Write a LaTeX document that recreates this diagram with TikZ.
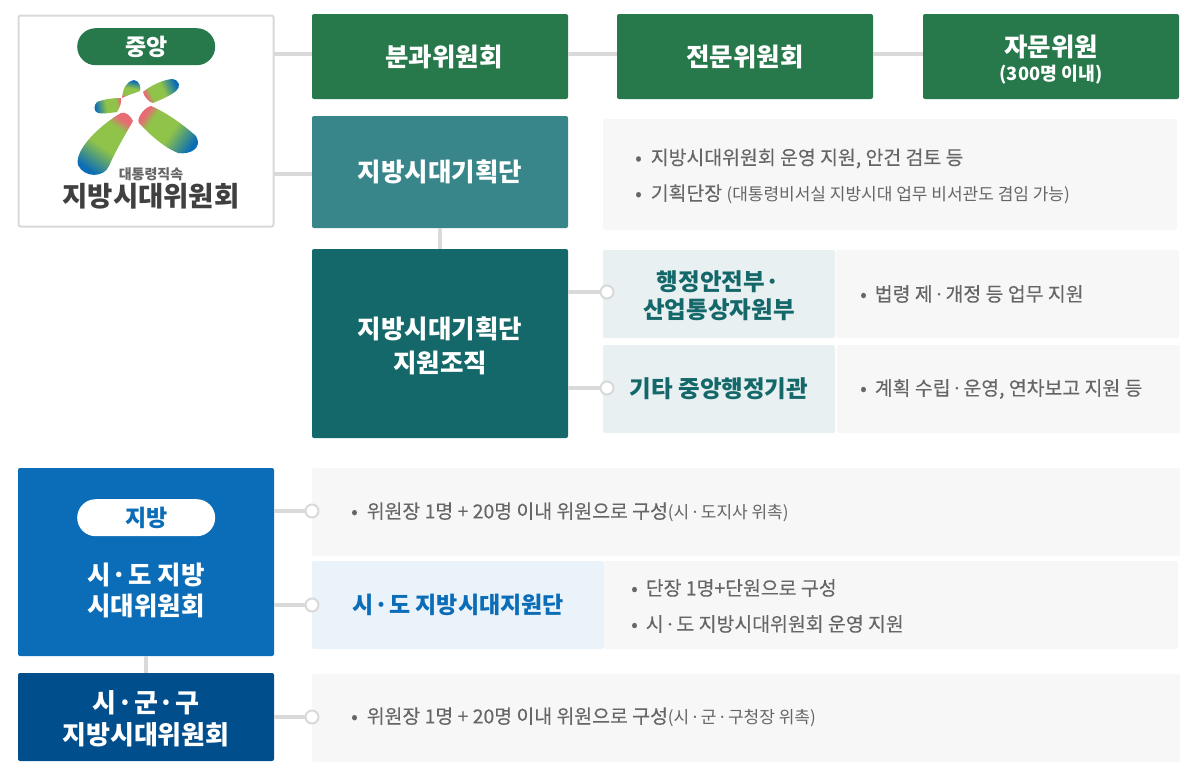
\documentclass[tikz,border=0pt]{standalone}
\usepackage{fontspec}
\setmainfont{Noto Sans CJK KR}
\newfontfamily\krmid{Noto Sans CJK KR}[FakeBold=0.2]
\newcommand{\fsz}[1]{\fontsize{#1}{#1}\selectfont}
\newcommand{\mdot}{\kern1pt·\kern1pt}
\newcommand{\topgap}[1]{\rule{0pt}{#1pt}}
\definecolor{cgreen}{HTML}{27784A}
\definecolor{cteal}{HTML}{38868A}
\definecolor{cdeep}{HTML}{15686A}
\definecolor{cblue}{HTML}{0B6CB7}
\definecolor{cnavy}{HTML}{004E8C}
\definecolor{cline}{HTML}{D9D9D9}
\definecolor{cpale}{HTML}{F7F7F7}
\definecolor{cmint}{HTML}{E8F0F2}
\definecolor{csky}{HTML}{EBF3FA}
\definecolor{ctext}{HTML}{666666}
\definecolor{pblue}{HTML}{0A6DB5}
\definecolor{pgreen}{HTML}{8FC34A}
\definecolor{pred}{HTML}{E86B74}
\pgfdeclarehorizontalshading{petal}{100bp}{color(0bp)=(pblue); color(27bp)=(pblue); color(48bp)=(pgreen); color(67bp)=(pgreen); color(74.5bp)=(pred); color(100bp)=(pred)}
\tikzset{
  box/.style={anchor=north west, inner sep=0pt, outer sep=0pt, rounded corners=2pt, align=center, font=\bfseries\fsz{25.5}, text=white},
  pill/.style={anchor=north west, inner sep=0pt, minimum width=138pt, minimum height=37pt, rounded corners=18.5pt, font=\bfseries\fsz{23}},
  item/.style={anchor=west, inner sep=0pt, text=ctext, font=\krmid\fsz{19.4}},
  link/.style={draw=cline, line width=4pt},
  knob/.style={circle, draw=cline, fill=white, line width=2pt, minimum size=13pt, inner sep=0pt}
}
\begin{document}
\begin{tikzpicture}[x=1pt,y=-1pt]
\useasboundingbox (0,0) rectangle (1200,780);
% central group
\node[box, draw=cline, line width=2pt, fill=white, minimum width=255pt, minimum height=211pt] (centre) at (18.5,15.5) {};
\node[box, fill=cgreen, minimum width=256pt, minimum height=85pt] (bunkwa) at (312,14) {\hspace*{8pt}분과위원회};
\node[box, fill=cgreen, minimum width=256pt, minimum height=85pt] (jeonmun) at (617,14) {전문위원회};
\node[box, fill=cgreen, minimum width=256pt, minimum height=85pt] (jamun) at (923,14) {\topgap{28}자문위원\\[-2pt]{\fsz{18.3}(300명 이내)}};
\node[box, fill=cteal, minimum width=256pt, minimum height=112pt] (plan) at (312,116) {지방시대기획단};
\node[box, fill=cdeep, minimum width=256pt, minimum height=189pt] (support) at (312,249) {\topgap{26}지방시대기획단\\[9pt]지원조직};
\draw[link] ([yshift=2.5pt]centre.east |- bunkwa.west) -- ([yshift=2.5pt]bunkwa.west);
\draw[link] ([yshift=2.5pt]bunkwa.east) -- ([yshift=2.5pt]jeonmun.west);
\draw[link] ([yshift=2.5pt]jeonmun.east) -- ([yshift=2.5pt]jamun.west);
\draw[link] ([yshift=-2pt]centre.east |- plan.west) -- ([yshift=-2pt]plan.west);
\draw[link] (plan.south) -- (support.north);
\node[pill, fill=cgreen, text=white] (central) at (77,28) {중앙};
% logo
\shade[shading=petal, shading angle=55] (121,113) .. controls (125,111) and (131,116) .. (133,121) .. controls (125,135) and (116,150) .. (109,166) .. controls (104,178) and (84,178) .. (78,165) .. controls (74,150) and (100,125) .. (121,113) -- cycle;
\shade[shading=petal, shading angle=145] (151,106) .. controls (165,112) and (180,122) .. (196,136) .. controls (203,148) and (190,155) .. (178,153) .. controls (165,148) and (150,135) .. (139,123) .. controls (136,118) and (145,107) .. (151,106) -- cycle;
\shade[shading=petal, shading angle=-155] (143,92) .. controls (150,86) and (162,80) .. (172,79) .. controls (180,80) and (181,87) .. (176,91) .. controls (170,96) and (160,100) .. (153,103) .. controls (150,103) and (144,97) .. (143,92) -- cycle;
\shade[shading=petal, shading angle=-100] (122,98) .. controls (123,88) and (126,82) .. (134,80) .. controls (140,81) and (141,88) .. (140,91) .. controls (135,93) and (128,95) .. (122,98) -- cycle;
\shade[shading=petal, shading angle=10] (121,98) .. controls (122,102) and (120,107) .. (117,112) .. controls (110,113) and (102,114) .. (98,113) .. controls (93,111) and (94,105) .. (97,102) .. controls (105,99) and (113,98) .. (121,98) -- cycle;
\node[inner sep=0pt, text=ctext, font=\bfseries\fsz{14}] (logosub) at (151,174) {대통령직속};
\node[inner sep=0pt, text=black!75, font=\bfseries\fsz{27.5}] (logoname) at (151,196) {지방시대위원회};
% info of the planning group
\node[box, fill=cpale, minimum width=574pt, minimum height=111pt] (planinfo) at (603,119) {};
\node[item] (pa) at (635,158.5) {•\hspace{9pt}지방시대위원회 운영 지원, 안건 검토 등};
\node[item] (pb) at (635,194) {•\hspace{9pt}기획단장 {\rmfamily\fsz{17}(대통령비서실 지방시대 업무 비서관도 겸임 가능)}};
% support rows
\node[box, fill=cpale, minimum width=343pt, minimum height=88pt] (sa) at (836,250) {};
\node[box, fill=cpale, minimum width=343pt, minimum height=88pt] (sb) at (837,345) {};
\node[box, fill=cmint, minimum width=232pt, minimum height=88pt, text=cdeep, font=\bfseries\fsz{23.5}] (ma) at (603,250) {\topgap{23}행정안전부\mdot\\[5pt]산업통상자원부};
\node[box, fill=cmint, minimum width=232pt, minimum height=88pt, text=cdeep, font=\bfseries\fsz{23.5}] (mb) at (603,345) {기타 중앙행정기관};
\node[knob] (ka) at (607,292) {};
\node[knob] (kb) at (607,388) {};
\draw[link] (ka.west -| support.east) -- (ka);
\draw[link] (kb.west -| support.east) -- (kb);
\node[item] (sat) at (860,294) {•\hspace{8pt}법령 제\mdot 개정 등 업무 지원};
\node[item] (sbt) at (860,389) {•\hspace{8pt}계획 수립\mdot 운영, 연차보고 지원 등};
% local group
\node[box, fill=cblue, minimum width=256pt, minimum height=188pt] (local) at (18,468) {\\[53pt]시\mdot 도 지방\\[6pt]시대위원회};
\node[pill, fill=white, text=cblue] (lpill) at (77,499) {지방};
\node[box, fill=cnavy, minimum width=256pt, minimum height=88pt, font=\bfseries\fsz{26}] (city) at (18,673) {\topgap{26}시\mdot 군\mdot 구\\[6pt]지방시대위원회};
\draw[link] (local.south) -- (city.north);
\node[box, fill=cpale, minimum width=868pt, minimum height=88pt] (la) at (312,468) {};
\node[box, fill=cpale, minimum width=574pt, minimum height=88pt] (lb) at (604,561) {};
\node[box, fill=csky, minimum width=292pt, minimum height=88pt, text=cblue, font=\bfseries\fsz{23}] (lbt) at (312,561) {시\mdot 도 지방시대지원단};
\node[box, fill=cpale, minimum width=868pt, minimum height=88pt] (lc) at (312,674) {};
\node[knob] (kc) at (312,511) {};
\node[knob] (kd) at (312,605) {};
\node[knob] (ke) at (312,717) {};
\draw[link] (kc.west -| local.east) -- (kc);
\draw[link] (kd.west -| local.east) -- (kd);
\draw[link] (ke.west -| city.east) -- (ke);
\node[item] (lat) at (351,512) {•\hspace{9pt}위원장 1명 + 20명 이내 위원으로 구성{\rmfamily\fsz{17}(시\mdot 도지사 위촉)}};
\node[item] (lbu) at (631,588) {•\hspace{8pt}단장 1명+단원으로 구성};
\node[item] (lbv) at (631,624) {•\hspace{8pt}시\mdot 도 지방시대위원회 운영 지원};
\node[item] (lct) at (351,717) {•\hspace{9pt}위원장 1명 + 20명 이내 위원으로 구성{\rmfamily\fsz{17}(시\mdot 군\mdot 구청장 위촉)}};
\end{tikzpicture}
\end{document}
